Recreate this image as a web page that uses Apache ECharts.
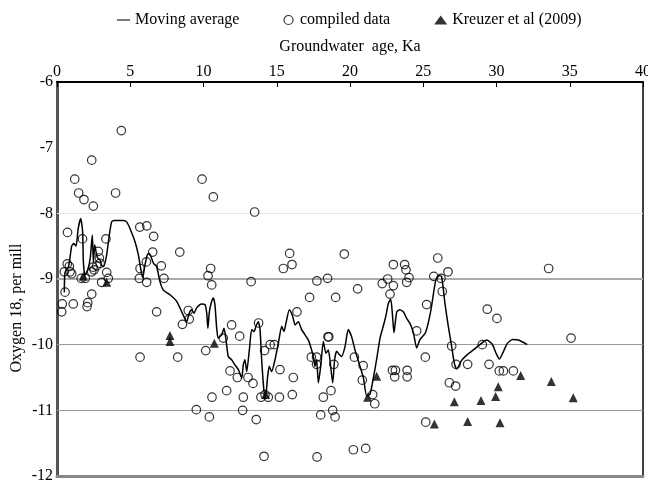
<!DOCTYPE html>
<html>
<head>
<meta charset="utf-8">
<script src="https://cdn.jsdelivr.net/npm/echarts@6/dist/echarts.min.js"></script>
<style>html,body{margin:0;padding:0;background:#fff}#c{width:648px;height:480px}</style>
</head>
<body>
<div id="c"></div>
<script>
var xTicks = [0, 5, 10, 15, 20, 25, 30, 35, 40];
var yTicks = [-12, -11, -10, -9, -8, -7, -6];

var compiledData = [
  [4.39,-6.74],[2.37,-7.19],[1.21,-7.48],[1.48,-7.69],[1.84,-7.79],[2.48,-7.89],[4.0,-7.69],[9.9,-7.48],[10.67,-7.75],[13.49,-7.98],
  [0.72,-8.29],[1.74,-8.39],[3.34,-8.39],[5.65,-8.21],[6.13,-8.19],[6.6,-8.35],[2.82,-8.58],[2.89,-8.68],[8.38,-8.59],[6.53,-8.59],
  [2.46,-8.82],[2.53,-8.86],[2.71,-8.8],[2.94,-8.76],[3.39,-8.9],
  [0.5,-8.89],[0.84,-8.81],[0.89,-8.89],[1.0,-8.92],[0.7,-8.77],
  [5.67,-8.84],[6.1,-8.74],[7.12,-8.8],[10.49,-8.84],[10.31,-8.95],[1.65,-8.99],[1.93,-8.99],[2.37,-8.89],[3.5,-8.99],[3.05,-9.05],
  [5.62,-8.99],[6.12,-9.05],[7.3,-8.99],[10.56,-9.09],[13.25,-9.04],[0.55,-9.2],[0.36,-9.38],[0.32,-9.5],[1.11,-9.38],[2.1,-9.36],[2.05,-9.42],
  [2.37,-9.23],[6.8,-9.5],[8.96,-9.48],[9.03,-9.61],[8.56,-9.69],[11.92,-9.7],[12.47,-9.87],[11.35,-9.9],
  [10.15,-10.09],[5.67,-10.19],[8.24,-10.19],[14.17,-10.09],[14.55,-10.0],[14.83,-10.0],[11.81,-10.4],[12.31,-10.5],[13.04,-10.5],[13.38,-10.59],
  [15.22,-10.38],[16.13,-10.5],[11.58,-10.7],[10.58,-10.8],[12.72,-10.8],[13.92,-10.8],[14.2,-10.76],[14.42,-10.8],[15.18,-10.8],[16.06,-10.76],
  [9.51,-10.99],[10.4,-11.1],[12.67,-11.0],[13.6,-11.14],[14.13,-11.7],[17.36,-10.19],[17.72,-10.19],[17.72,-10.3],[18.9,-10.3],[18.55,-9.88],
  [18.7,-10.7],[18.18,-10.8],[18.82,-11.0],[18.98,-11.1],[18.0,-11.07],[17.75,-11.71],[20.23,-11.6],[21.07,-11.58],
  [15.45,-8.84],[16.04,-8.78],[15.88,-8.61],[13.76,-9.67],[16.38,-9.5],[17.24,-9.28],[17.74,-9.03],[18.47,-8.99],[19.02,-9.28],[19.61,-8.62],
  [20.52,-9.15],[18.5,-9.88],[20.3,-10.19],[20.9,-10.32],[20.84,-10.54],[21.55,-10.76],[21.69,-10.9],
  [22.96,-8.78],[23.73,-8.78],[23.82,-8.86],[24.03,-8.98],[23.87,-9.05],[22.57,-9.0],[22.2,-9.07],[22.96,-9.1],[22.73,-9.23],[24.55,-9.79],
  [22.9,-10.39],[23.1,-10.39],[23.05,-10.49],[23.9,-10.39],[23.9,-10.49],
  [25.99,-8.68],[25.72,-8.96],[26.21,-8.99],[26.69,-8.89],[26.3,-9.19],[25.23,-9.39],[33.56,-8.84],[29.37,-9.46],[30.03,-9.6],[35.09,-9.9],
  [26.94,-10.02],[29.03,-10.0],[25.14,-10.19],[25.17,-11.18],[27.24,-10.3],[28.03,-10.3],[29.49,-10.3],[30.19,-10.4],[30.47,-10.4],[31.15,-10.4],
  [26.78,-10.58],[27.21,-10.63]
];

var kreuzerData = [
  [1.8,-8.96],[3.39,-9.05],[7.71,-9.86],[7.71,-9.95],[10.74,-9.98],[14.24,-10.76],[21.2,-10.8],[21.82,-10.48],[25.76,-11.21],[27.12,-10.87],
  [28.03,-11.17],[28.94,-10.85],[29.94,-10.79],[30.12,-10.64],[30.24,-11.19],[31.65,-10.47],[33.74,-10.56],[35.24,-10.81]
];

var movingAvg = [
  [0.5,-9.2],[0.55,-8.9],[0.8,-8.8],[1.0,-8.5],[1.15,-8.46],[1.3,-8.5],[1.45,-8.23],[1.62,-8.08],[1.75,-8.28],[1.8,-8.74],[1.91,-8.94],
  [2.1,-8.86],[2.27,-8.68],[2.41,-8.33],[2.48,-8.74],[2.57,-8.48],[2.66,-8.58],[2.77,-8.68],[2.94,-8.71],[3.05,-8.79],[3.2,-8.81],
  [3.39,-8.63],[3.57,-8.33],[3.73,-8.13],[3.89,-8.11],[4.53,-8.11],[4.75,-8.13],[4.98,-8.23],[5.32,-8.43],[5.55,-8.63],[5.71,-8.84],
  [5.85,-8.98],[6.0,-8.79],[6.17,-8.63],[6.3,-8.61],[6.42,-8.66],[6.58,-8.76],[6.8,-8.81],[7.03,-9.04],[7.26,-9.17],[7.71,-9.24],
  [8.17,-9.34],[8.62,-9.55],[8.85,-9.65],[9.03,-9.52],[9.19,-9.47],[9.35,-9.52],[9.53,-9.44],[9.87,-9.38],[10.1,-9.39],[10.22,-9.52],
  [10.3,-9.75],[10.4,-9.5],[10.56,-9.34],[10.67,-9.29],[10.78,-9.39],[10.9,-9.75],[11.0,-9.9],[11.24,-9.85],[11.4,-9.75],[11.54,-9.93],
  [11.69,-10.18],[11.92,-10.23],[12.15,-10.31],[12.38,-10.38],[12.61,-10.51],[12.72,-10.3],[12.83,-10.23],[12.95,-10.41],[13.13,-10.08],
  [13.29,-9.77],[13.45,-9.8],[13.58,-9.72],[13.74,-9.65],[13.86,-9.77],[13.97,-10.23],[14.13,-10.71],[14.24,-10.79],[14.38,-10.48],
  [14.49,-10.33],[14.65,-10.41],[14.88,-10.23],[15.11,-9.98],[15.34,-9.72],[15.49,-9.8],[15.63,-9.67],[15.86,-9.47],[16.09,-9.57],
  [16.25,-9.7],[16.47,-9.65],[16.7,-9.77],[16.93,-9.85],[17.16,-9.93],[17.34,-10.05],[17.5,-10.18],[17.61,-10.33],[17.72,-10.23],
  [17.84,-10.58],[18.0,-10.33],[18.18,-9.95],[18.36,-10.13],[18.52,-10.08],[18.63,-10.23],[18.82,-10.58],[18.95,-10.23],[19.09,-10.1],
  [19.27,-10.15],[19.43,-10.18],[19.66,-10.03],[19.88,-9.77],[20.11,-9.88],[20.34,-10.08],[20.57,-10.25],[20.91,-10.5],[21.14,-10.78],
  [21.37,-10.75],[21.6,-10.5],[21.82,-10.22],[22.05,-9.9],[22.27,-9.72],[22.46,-9.55],[22.62,-9.37],[22.78,-9.31],[22.9,-9.55],
  [23.0,-9.82],[23.19,-9.5],[23.4,-9.47],[23.64,-9.5],[23.87,-9.6],[24.1,-9.68],[24.33,-9.82],[24.55,-10.05],[24.78,-9.92],[25.15,-9.82],
  [25.5,-9.5],[25.85,-9.02],[26.05,-8.95],[26.25,-8.96],[26.48,-9.37],[26.71,-9.72],[26.94,-10.03],[27.12,-10.28],[27.28,-10.37],
  [27.62,-10.24],[27.97,-10.16],[28.42,-10.08],[28.87,-10.0],[29.33,-9.93],[29.7,-9.99],[29.97,-10.13],[30.2,-10.22],[30.42,-10.13],
  [30.74,-9.98],[31.1,-9.92],[31.5,-9.93],[32.1,-10.0]
];

var gridValues = [-8, -9, -10, -11];
var gridColors = ['#e6e6e6', '#aaaaaa', '#999999', '#999999'];
var gridWidths = [1, 2, 1, 1];

var FONT = "'Liberation Serif', 'Times New Roman', serif";
var chart = echarts.init(document.getElementById('c'), null, {renderer: 'canvas'});

chart.setOption({
  animation: false,
  backgroundColor: '#fff',
  legend: {
    top: 7,
    left: 112,
    itemGap: 44,
    itemWidth: 13,
    itemHeight: 9,
    textStyle: {fontFamily: FONT, fontSize: 16, color: '#000'},
    data: [
      {name: 'Moving average', icon: 'path://M0,0 L20,0 L20,1.6 L0,1.6 Z', itemStyle: {color: '#000'}},
      {name: 'compiled data', icon: 'circle', itemStyle: {color: 'rgba(0,0,0,0)', borderColor: '#000', borderWidth: 1.2}},
      {name: 'Kreuzer et al (2009)', icon: 'triangle', itemStyle: {color: '#000'}}
    ]
  },
  grid: {left: 57, right: 5, top: 82, bottom: 4, containLabel: false, outerBoundsMode: 'none'},
  xAxis: [
    {
      type: 'value', position: 'top', min: xTicks[0], max: xTicks[xTicks.length - 1], interval: 5,
      name: 'Groundwater  age, Ka', nameLocation: 'middle', nameGap: 27,
      nameTextStyle: {fontFamily: FONT, fontSize: 16, color: '#000'},
      axisLine: {show: true, onZero: false, lineStyle: {color: '#000', width: 2}},
      axisTick: {show: true, inside: true, length: 5, lineStyle: {color: '#000', width: 1}},
      axisLabel: {fontFamily: FONT, fontSize: 16, color: '#000', margin: 2},
      splitLine: {show: false}
    },
    {
      type: 'value', position: 'bottom', min: 0, max: 40,
      axisLine: {show: true, onZero: false, lineStyle: {color: '#888', width: 3}},
      axisTick: {show: false}, axisLabel: {show: false}, splitLine: {show: false}
    }
  ],
  yAxis: [
    {
      type: 'value', position: 'left', min: yTicks[0], max: yTicks[yTicks.length - 1], interval: 1,
      axisLine: {show: true, onZero: false, lineStyle: {color: '#555', width: 3}},
      axisTick: {show: false},
      axisLabel: {fontFamily: FONT, fontSize: 16, color: '#000', margin: 4},
      splitLine: {show: false}
    },
    {
      type: 'value', position: 'right', min: -12, max: -6,
      axisLine: {show: true, onZero: false, lineStyle: {color: '#000', width: 1.5}},
      axisTick: {show: false}, axisLabel: {show: false}, splitLine: {show: false}
    }
  ],
  graphic: [
    {
      type: 'text', x: 17, y: 308, rotation: Math.PI / 2,
      style: {text: 'Oxygen 18, per mill', fontFamily: FONT, fontSize: 16, fill: '#000', align: 'center', verticalAlign: 'middle'}
    }
  ],
  series: [
    {
      name: 'Moving average', type: 'line', xAxisIndex: 0, yAxisIndex: 0,
      data: movingAvg, symbol: 'none', smooth: 0.2,
      lineStyle: {color: '#000', width: 1.5}, itemStyle: {color: '#000'},
      z: 3,
      markLine: {
        silent: true, symbol: ['none', 'none'], z: 1, animation: false,
        label: {show: false},
        data: gridValues.map(function (v, i) {
          return {yAxis: v, lineStyle: {color: gridColors[i], width: gridWidths[i], type: 'solid'}};
        })
      }
    },
    {
      name: 'compiled data', type: 'scatter', xAxisIndex: 0, yAxisIndex: 0,
      data: compiledData, symbol: 'circle', symbolSize: 8.5,
      itemStyle: {color: 'rgba(0,0,0,0)', borderColor: '#000', borderWidth: 1.2},
      z: 4
    },
    {
      name: 'Kreuzer et al (2009)', type: 'scatter', xAxisIndex: 0, yAxisIndex: 0,
      data: kreuzerData, symbol: 'triangle', symbolSize: 9,
      itemStyle: {color: '#000'},
      z: 5
    }
  ]
});
</script>
</body>
</html>
